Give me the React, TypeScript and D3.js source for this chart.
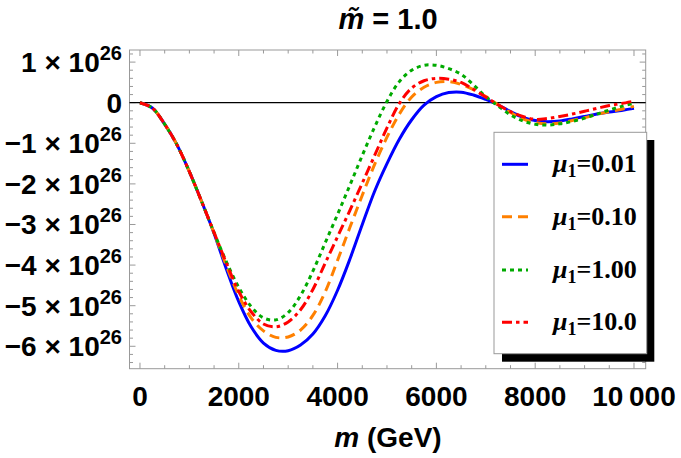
import React from 'react';
import * as d3 from 'd3';

// m in GeV
const mValues = [
  0, 250, 500, 750, 1000, 1250, 1500, 1750, 2000, 2250, 2500, 2750, 3000, 3250,
  3500, 3750, 4000, 4250, 4500, 4750, 5000, 5250, 5500, 5750, 6000, 6250, 6500,
  6750, 7000, 7250, 7500, 7750, 8000, 8250, 8500, 8750, 9000, 9250, 9500, 9750,
  10000,
];

// curve values in units of 10^26
const mu001 = [
  0, -0.13, -0.53, -1.04, -1.7, -2.44, -3.22, -4.1, -4.9, -5.52, -5.92, -6.1,
  -6.11, -5.97, -5.7, -5.25, -4.62, -3.85, -3.0, -2.18, -1.5, -0.9, -0.42,
  -0.06, 0.15, 0.25, 0.26, 0.19, 0.08, -0.05, -0.22, -0.36, -0.44, -0.47,
  -0.45, -0.4, -0.34, -0.28, -0.23, -0.19, -0.14,
];
const mu010 = [
  0, -0.13, -0.53, -1.04, -1.7, -2.44, -3.21, -4.02, -4.75, -5.3, -5.62, -5.78,
  -5.77, -5.6, -5.24, -4.66, -3.88, -3.07, -2.28, -1.52, -0.85, -0.28, 0.14,
  0.38, 0.5, 0.52, 0.45, 0.32, 0.15, -0.05, -0.24, -0.4, -0.49, -0.52, -0.5,
  -0.44, -0.37, -0.29, -0.22, -0.16, -0.09,
];
const mu100 = [
  0, -0.13, -0.53, -1.04, -1.7, -2.44, -3.2, -3.92, -4.55, -5.02, -5.3, -5.35,
  -5.17, -4.75, -4.15, -3.45, -2.75, -2.03, -1.3, -0.6, 0.03, 0.52, 0.8, 0.92,
  0.92, 0.84, 0.7, 0.44, 0.15, -0.08, -0.3, -0.45, -0.53, -0.55, -0.52, -0.46,
  -0.38, -0.28, -0.18, -0.09, -0.01,
];
const mu1000 = [
  0, -0.13, -0.53, -1.04, -1.7, -2.44, -3.2, -3.95, -4.65, -5.15, -5.45, -5.52,
  -5.4, -5.1, -4.6, -3.95, -3.3, -2.65, -1.98, -1.3, -0.62, -0.02, 0.36, 0.54,
  0.6, 0.58, 0.5, 0.33, 0.14, -0.05, -0.22, -0.34, -0.41, -0.39, -0.34, -0.28,
  -0.21, -0.14, -0.07, -0.02, 0.04,
];

const muLabels = ['0.01', '0.10', '1.00', '10.0'];
const seriesValues = [mu001, mu010, mu100, mu1000];
const seriesColors = ['#0000ff', '#ff8000', '#00aa00', '#ff0000'];
const seriesDashes = ['none', '10,6', '4,4', '10,4,3.5,4'];

const yTickValues = [1, 0, -1, -2, -3, -4, -5, -6];
const xTickValues = [0, 2000, 4000, 6000, 8000, 10000];
const xTickLabels = ['0', '2000', '4000', '6000', '8000', '10\u2009000'];

const W = 681;
const H = 458;
const frame = { left: 129.5, right: 645.7, top: 50, bottom: 368.7 };

const x = d3.scaleLinear().domain([-212, 10237]).range([frame.left, frame.right]);
const y = d3.scaleLinear().domain([-6.552, 1.298]).range([frame.bottom, frame.top]);

const sans = '"Liberation Sans", Arial, sans-serif';
const serif = '"Liberation Serif", "Times New Roman", serif';
const frameColor = '#999999';

export default function App() {
  const line = d3
    .line<number>()
    .x((_, i) => x(mValues[i]))
    .y((d) => y(d))
    .curve(d3.curveCatmullRom.alpha(0.5));

  const xMinor = d3.range(0, 10001, 500);
  const yMinor = d3.range(-6.4, 1.21, 0.2).map((v) => Math.round(v * 10) / 10);

  const legendRows = [164.3, 216.7, 270, 322.3];

  return (
    <svg
      width={W}
      height={H}
      style={{ position: 'absolute', left: 0, top: 0, background: '#fff' }}
    >
      <defs>
        <clipPath id="plotArea">
          <rect
            x={frame.left}
            y={frame.top}
            width={frame.right - frame.left}
            height={frame.bottom - frame.top}
          />
        </clipPath>
      </defs>

      {/* title */}
      <text
        x={388}
        y={29}
        textAnchor="middle"
        fontFamily={sans}
        fontWeight="bold"
        fontSize={29}
      >
        <tspan fontStyle="italic">m&#771;</tspan> = 1.0
      </text>

      {/* frame ticks */}
      <g stroke={frameColor} strokeWidth={1}>
        {xMinor.map((v) => {
          const len = v % 2000 === 0 ? 6 : 3.5;
          return (
            <g key={'xt' + v}>
              <line x1={x(v)} x2={x(v)} y1={frame.bottom} y2={frame.bottom - len} />
              <line x1={x(v)} x2={x(v)} y1={frame.top} y2={frame.top + len} />
            </g>
          );
        })}
        {yMinor.map((v) => {
          const len = Number.isInteger(v) ? 6 : 3.5;
          return (
            <g key={'yt' + v}>
              <line x1={frame.left} x2={frame.left + len} y1={y(v)} y2={y(v)} />
              <line x1={frame.right} x2={frame.right - len} y1={y(v)} y2={y(v)} />
            </g>
          );
        })}
        <rect
          x={frame.left}
          y={frame.top}
          width={frame.right - frame.left}
          height={frame.bottom - frame.top}
          fill="none"
        />
      </g>

      {/* zero axis */}
      <line
        x1={frame.left}
        x2={frame.right}
        y1={y(0)}
        y2={y(0)}
        stroke="#000"
        strokeWidth={1.3}
      />

      {/* curves */}
      <g clipPath="url(#plotArea)" fill="none" strokeWidth={3}>
        {seriesValues.map((vals, i) => (
          <path
            key={muLabels[i]}
            d={line(vals) || ''}
            stroke={seriesColors[i]}
            strokeDasharray={seriesDashes[i]}
          />
        ))}
      </g>

      {/* y tick labels */}
      <g fontFamily={sans} fontWeight="bold" fontSize={28} textAnchor="end">
        {yTickValues.map((v) =>
          v === 0 ? (
            <text key={v} x={122} y={y(v) + 10}>
              0
            </text>
          ) : (
            <text key={v} x={122} y={y(v) + 10}>
              {(v < 0 ? '\u2212' : '') + Math.abs(v) + ' \u00d7 10'}
              <tspan fontSize={20} dy={-12}>
                26
              </tspan>
            </text>
          )
        )}
      </g>

      {/* x tick labels */}
      <g fontFamily={sans} fontWeight="bold" fontSize={28} textAnchor="middle">
        {xTickValues.map((v, i) => (
          <text key={v} x={x(v)} y={406}>
            {xTickLabels[i]}
          </text>
        ))}
      </g>

      {/* x axis title */}
      <text
        x={388}
        y={447}
        textAnchor="middle"
        fontFamily={sans}
        fontWeight="bold"
        fontSize={28}
      >
        <tspan fontStyle="italic">m</tspan> (GeV)
      </text>

      {/* legend */}
      <rect x={502} y={140} width={152.3} height={221.7} fill="#000" />
      <rect
        x={494}
        y={132.3}
        width={152.7}
        height={221.4}
        fill="#fff"
        stroke={frameColor}
        strokeWidth={1}
      />
      {muLabels.map((lab, i) => (
        <g key={'lg' + lab}>
          <line
            x1={502}
            x2={528}
            y1={legendRows[i]}
            y2={legendRows[i]}
            stroke={seriesColors[i]}
            strokeWidth={3}
            strokeDasharray={seriesDashes[i]}
          />
          <text
            x={553}
            y={legendRows[i] + 8}
            fontFamily={serif}
            fontWeight="bold"
            fontSize={26}
          >
            <tspan fontStyle="italic">μ</tspan>
            <tspan fontSize={18} dy={5}>
              1
            </tspan>
            <tspan dy={-5}>={lab}</tspan>
          </text>
        </g>
      ))}
    </svg>
  );
}
